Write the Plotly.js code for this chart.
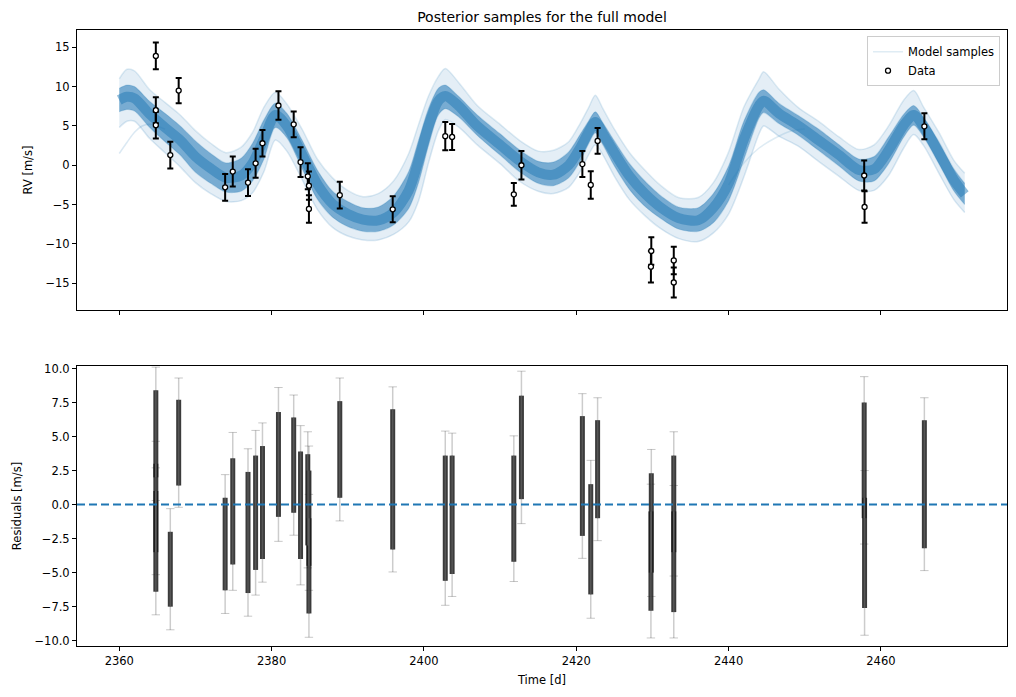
<!DOCTYPE html>
<html>
<head>
<meta charset="utf-8">
<script src="https://cdn.plot.ly/plotly-3.0.1.min.js"></script>
<style>
  html, body { margin: 0; padding: 0; background: #ffffff; }
  #chart { width: 1016px; height: 697px; }
</style>
</head>
<body>
<div id="chart"></div>
<script>
// ---- Observed radial velocities ----
const dataTime = [2364.8, 2364.8, 2364.8, 2366.7, 2367.8, 2373.9, 2374.9, 2376.9, 2377.9, 2378.8,
                  2380.9, 2382.9, 2383.8, 2384.75, 2384.9, 2384.9, 2388.95, 2395.9, 2402.8, 2403.7,
                  2411.8, 2412.8, 2420.8, 2421.9, 2422.8, 2429.85, 2429.8, 2432.8, 2432.8, 2457.8,
                  2457.85, 2465.7];
const dataRV   = [13.9, 7.0, 5.1, 1.3, 9.5, -2.8, -0.8, -2.2, 0.25, 2.8,
                  7.6, 5.2, 0.4, -1.4, -2.6, -5.55, -3.8, -5.6, 3.7, 3.6,
                  -3.7, 0.0, 0.15, -2.5, 3.1, -10.9, -12.9, -12.1, -14.9, -1.3,
                  -5.3, 4.95];
const dataErr  = [1.7, 1.65, 1.7, 1.7, 1.6, 1.7, 1.9, 1.7, 1.85, 1.7,
                  1.8, 1.65, 1.9, 1.65, 1.8, 1.75, 1.7, 1.65, 1.8, 1.65,
                  1.45, 1.8, 1.65, 1.75, 1.65, 1.75, 2.0, 1.75, 1.9, 1.9,
                  2.0, 1.65];

// ---- Residual spread per observation (lowest / highest residual sample) ----
const residLow  = [2.0, -3.5, -6.4, -7.5, 1.4, -6.3, -4.4, -6.5, -4.8, -4.0,
                   -0.9, -0.6, -4.0, -3.0, -4.5, -8.0, 0.5, -3.3, -5.6, -5.1,
                   -4.2, 0.4, -2.3, -6.6, -1.0, -5.0, -7.8, -3.5, -7.9, -1.0,
                   -7.6, -3.2];
const residHigh = [8.4, 3.0, 1.0, -2.0, 7.7, 0.5, 3.4, 2.4, 3.6, 4.3,
                   6.8, 6.4, 3.9, 3.7, 2.5, -1.0, 7.6, 7.0, 3.6, 3.6,
                   3.6, 8.0, 6.5, 1.5, 6.2, 2.3, -0.5, 3.6, -0.5, 7.5,
                   0.5, 6.2];

// ---- Posterior model curves: median, dense band and outer envelope ----
const modelTime   = [2360, 2361, 2362, 2364, 2366, 2368, 2370, 2372, 2374, 2376,
                     2377.5, 2379, 2380.5, 2382, 2384, 2386, 2388, 2390, 2392, 2394,
                     2396, 2398, 2399.3, 2400.6, 2401.9, 2402.8, 2404.5, 2407, 2410, 2412.5,
                     2415, 2417, 2419, 2420.5, 2421.6, 2422.5, 2423.5, 2425, 2427, 2429,
                     2431, 2433.4, 2436, 2438, 2440, 2442, 2444, 2444.6, 2446.6, 2449.2,
                     2451.8, 2454.5, 2457.1, 2459.1, 2461, 2463, 2464.3, 2465.6, 2467.6, 2469.6,
                     2471];
const modelMedian = [8.3, 8.7, 8.5, 6.5, 4.8, 3.2, 1.1, -0.4, -1.6, -1.3,
                     0.3, 3.4, 6.4, 5.0, 1.4, -2.4, -4.9, -6.2, -6.9, -7.0,
                     -6.0, -3.2, 0.6, 5.0, 8.2, 8.8, 7.6, 5.0, 2.6, 0.6,
                     -0.9, -1.2, 0.0, 2.2, 4.2, 5.5, 4.0, 1.6, -1.4, -3.6,
                     -5.3, -6.7, -7.0, -5.4, -2.3, 3.3, 7.6, 8.2, 6.6, 5.0,
                     3.2, 1.3, -0.6, -0.5, 1.9, 5.1, 6.4, 4.9, 1.6, -1.9,
                     -3.7];
const innerLow    = [6.8, 7.1, 6.9, 4.8, 3.0, 1.3, -0.9, -2.3, -3.4, -3.3,
                     -2.0, 0.8, 4.8, 3.5, -0.4, -4.3, -6.6, -7.8, -8.4, -8.4,
                     -7.6, -5.5, -2.2, 2.5, 6.4, 7.2, 6.2, 3.8, 1.3, -0.8,
                     -2.3, -2.6, -1.6, 0.5, 2.7, 4.1, 2.6, -0.1, -3.1, -5.2,
                     -6.7, -8.1, -8.4, -7.3, -4.5, 0.7, 6.0, 6.7, 5.3, 3.8,
                     1.9, -0.1, -2.0, -2.0, 0.2, 3.6, 5.1, 3.6, 0.2, -3.3,
                     -5.0];
const innerHigh   = [9.8, 10.2, 10.0, 8.1, 6.6, 5.0, 3.1, 1.5, 0.3, 0.9,
                     2.8, 5.8, 7.9, 6.6, 3.2, -0.6, -3.3, -4.6, -5.4, -5.3,
                     -3.9, -0.8, 3.2, 7.2, 9.8, 10.2, 8.8, 6.4, 4.0, 2.0,
                     0.5, 0.4, 1.7, 3.9, 5.6, 6.8, 5.4, 3.1, 0.2, -2.0,
                     -3.8, -5.3, -5.4, -3.6, -0.1, 5.6, 9.3, 9.6, 7.9, 6.3,
                     4.6, 2.6, 0.8, 1.1, 3.6, 6.5, 7.6, 6.1, 3.0, -0.5,
                     -2.3];
const outerLow    = [4.8, 5.6, 5.6, 3.4, 1.6, -0.2, -2.2, -3.6, -4.6, -4.5,
                     -3.5, -0.8, 3.2, 1.8, -1.8, -5.6, -7.9, -9.0, -9.5, -9.5,
                     -8.8, -7.2, -4.5, 0.3, 4.4, 5.8, 4.9, 2.6, 0.2, -2.0,
                     -3.3, -3.6, -2.8, -0.8, 1.3, 2.6, 1.3, -1.4, -4.4, -6.4,
                     -8.0, -9.3, -9.7, -8.6, -6.2, -1.5, 4.0, 5.0, 3.7, 2.4,
                     0.5, -1.4, -3.2, -3.2, -1.3, 2.2, 3.9, 2.5, -1.0, -4.4,
                     -6.0];
const outerHigh   = [11.0, 12.2, 12.0, 9.6, 8.0, 6.4, 4.4, 2.8, 1.6, 2.3,
                     4.2, 7.4, 9.3, 7.8, 4.6, 0.8, -1.6, -3.2, -4.0, -3.6,
                     -2.0, 1.5, 5.2, 8.8, 11.3, 12.3, 10.6, 7.6, 5.2, 3.2,
                     1.8, 1.9, 3.0, 5.3, 7.3, 8.9, 7.2, 4.6, 1.6, -0.6,
                     -2.5, -4.1, -4.1, -2.2, 1.7, 7.4, 11.0, 11.9, 9.7, 7.3,
                     5.6, 3.6, 2.0, 2.6, 5.0, 8.3, 9.5, 7.4, 4.2, 0.6,
                     -1.0];

// Two stray posterior draws that leave the bundle
const strayTimeA = [2360, 2361, 2362, 2363, 2364, 2366];
const strayRVA   = [1.5, 2.9, 4.2, 5.0, 5.2, 4.6];
const strayTimeB = [2440, 2442, 2444, 2446, 2448, 2450];
const strayRVB   = [-2.5, 0.3, 2.2, 3.4, 4.3, 4.6];

// ---- Axis ticks ----
const timeTicks  = [2360, 2380, 2400, 2420, 2440, 2460];
const rvTicks    = [-15, -10, -5, 0, 5, 10, 15];
const residTicks = [-10, -7.5, -5, -2.5, 0, 2.5, 5, 7.5, 10];

const BLUE = '31,119,180';
const blue = a => `rgba(${BLUE},${a})`;
const FONT = 'DejaVu Sans, Liberation Sans, sans-serif';

const traces = [];

// filled band between two curves
function addBand(lo, hi, alpha) {
  traces.push({ x: modelTime, y: lo, type: 'scatter', mode: 'lines',
    line: { width: 0, shape: 'spline', smoothing: 0.8 }, showlegend: false, hoverinfo: 'skip',
    xaxis: 'x', yaxis: 'y' });
  traces.push({ x: modelTime, y: hi, type: 'scatter', mode: 'lines', fill: 'tonexty',
    fillcolor: blue(alpha), line: { width: 0, shape: 'spline', smoothing: 0.8 },
    showlegend: false, hoverinfo: 'skip', xaxis: 'x', yaxis: 'y' });
}
function addCurve(x, y, color, width, extra) {
  traces.push(Object.assign({ x: x, y: y, type: 'scatter', mode: 'lines',
    line: { color: color, width: width, shape: 'spline', smoothing: 0.8 },
    showlegend: false, hoverinfo: 'skip', xaxis: 'x', yaxis: 'y' }, extra || {}));
}

addBand(outerLow, outerHigh, 0.12);
addBand(innerLow, innerHigh, 0.55);
addCurve(modelTime, modelMedian, blue(0.5), 10);
addCurve(modelTime, outerLow, blue(0.16), 1.5);
addCurve(modelTime, outerHigh, blue(0.14), 1.5, { showlegend: true, name: 'Model samples', legendrank: 1 });
addCurve(modelTime, innerLow, blue(0.2), 1.2);
addCurve(modelTime, innerHigh, blue(0.2), 1.2);
addCurve(strayTimeA, strayRVA, blue(0.16), 1.5);
addCurve(strayTimeB, strayRVB, blue(0.14), 1.5);

// observations with error bars
traces.push({
  x: dataTime, y: dataRV, type: 'scatter', mode: 'markers', name: 'Data', legendrank: 2,
  marker: { symbol: 'circle', size: 5, color: '#ffffff', line: { color: '#000000', width: 1.3 } },
  error_y: { type: 'data', array: dataErr, visible: true, color: '#000000', thickness: 2, width: 3 },
  xaxis: 'x', yaxis: 'y', hoverinfo: 'skip'
});

// residual columns: faint error reach with caps, then the dense stack of samples
const faintX = [], faintY = [], capX = [], capY = [], denseX = [], denseY = [];
dataTime.forEach((t, i) => {
  const lo = residLow[i] - dataErr[i], hi = residHigh[i] + dataErr[i];
  faintX.push(t, t, null);
  faintY.push(lo, hi, null);
  capX.push(t, t);
  capY.push(lo, hi);
  denseX.push(t, t, null);
  denseY.push(residLow[i], residHigh[i], null);
});
traces.push({ x: faintX, y: faintY, type: 'scatter', mode: 'lines',
  line: { color: 'rgba(0,0,0,0.2)', width: 1.5 }, showlegend: false, hoverinfo: 'skip',
  xaxis: 'x2', yaxis: 'y2' });
traces.push({ x: capX, y: capY, type: 'scatter', mode: 'markers',
  marker: { symbol: 'line-ew-open', size: 6, color: 'rgba(0,0,0,0.22)', line: { color: 'rgba(0,0,0,0.22)', width: 1 } },
  showlegend: false, hoverinfo: 'skip', xaxis: 'x2', yaxis: 'y2' });
traces.push({ x: denseX, y: denseY, type: 'scatter', mode: 'lines',
  line: { color: 'rgba(25,25,25,0.85)', width: 5 }, showlegend: false, hoverinfo: 'skip',
  xaxis: 'x2', yaxis: 'y2' });
traces.push({ x: denseX, y: denseY, type: 'scatter', mode: 'lines',
  line: { color: 'rgba(110,110,110,0.6)', width: 1.5 }, showlegend: false, hoverinfo: 'skip',
  xaxis: 'x2', yaxis: 'y2' });

const axisBase = {
  showline: true, mirror: true, linecolor: '#000000', linewidth: 1,
  ticks: 'outside', ticklen: 4, tickwidth: 1, tickcolor: '#000000',
  showgrid: false, zeroline: false,
  tickfont: { family: FONT, size: 11.5, color: '#000000' }
};
const xRange = [2354.45, 2476.55];

const layout = {
  width: 1016, height: 697,
  paper_bgcolor: '#ffffff', plot_bgcolor: '#ffffff',
  margin: { l: 77, r: 9, t: 30, b: 51 },
  font: { family: FONT, color: '#000000' },
  title: { text: 'Posterior samples for the full model', font: { family: FONT, size: 14, color: '#000000' },
           x: 0.5, xref: 'paper', xanchor: 'center', y: 1 - 17 / 697, yref: 'container', yanchor: 'middle' },
  showlegend: true,
  legend: { x: 0.9925, xanchor: 'right', y: 0.99, yanchor: 'top', bgcolor: 'rgba(255,255,255,0.85)',
            bordercolor: '#cccccc', borderwidth: 1, font: { family: FONT, size: 11.5, color: '#000000' },
            traceorder: 'normal', tracegroupgap: 0 },
  xaxis: Object.assign({}, axisBase, { domain: [0, 1], anchor: 'y', range: xRange, tickvals: timeTicks,
            showticklabels: false, matches: 'x2' }),
  yaxis: Object.assign({}, axisBase, { domain: [0.5455, 1], anchor: 'x', range: [-18.4, 17.2], tickvals: rvTicks,
            title: { text: 'RV [m/s]', font: { family: FONT, size: 11.5 }, standoff: 10 } }),
  xaxis2: Object.assign({}, axisBase, { domain: [0, 1], anchor: 'y2', range: xRange, tickvals: timeTicks,
            title: { text: 'Time [d]', font: { family: FONT, size: 11.5 }, standoff: 9 } }),
  yaxis2: Object.assign({}, axisBase, { domain: [0, 0.4545], anchor: 'x2', range: [-10.39, 10.18],
            tickvals: residTicks, tickformat: '.1f',
            title: { text: 'Residuals [m/s]', font: { family: FONT, size: 11.5 }, standoff: 10 } }),
  shapes: [{
    type: 'line', xref: 'x2 domain', yref: 'y2', x0: 0, x1: 1, y0: 0, y1: 0,
    line: { color: 'rgb(31,119,180)', width: 2, dash: '8px,4px' }, layer: 'above'
  }],
  hovermode: false
};

Plotly.newPlot('chart', traces, layout, { staticPlot: true, displayModeBar: false });
</script>
</body>
</html>
